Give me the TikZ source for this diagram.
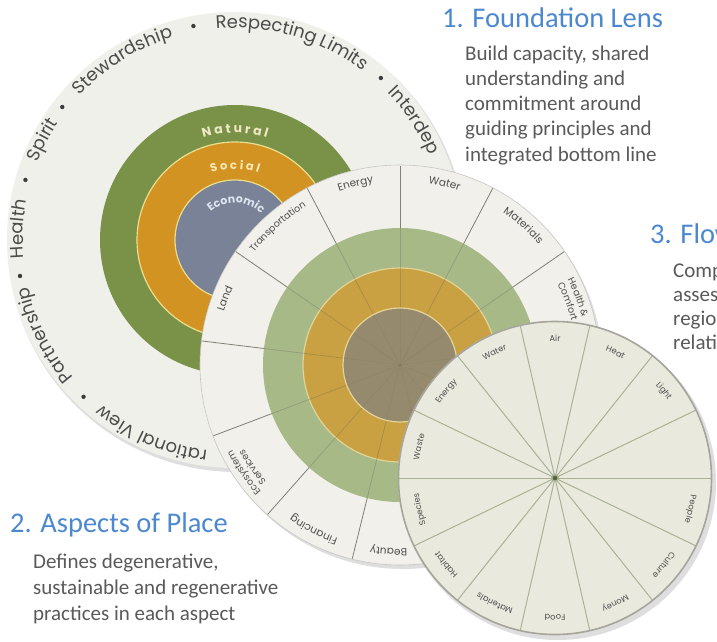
\documentclass[tikz,border=0pt]{standalone}
\usepackage{fontspec}
\setmainfont{Carlito}
\newfontfamily\geo{Poppins}
\usetikzlibrary{calc,decorations.text}
\definecolor{bandA}{RGB}{240,240,235}
\definecolor{natC}{RGB}{122,146,72}
\definecolor{socC}{RGB}{211,147,34}
\definecolor{ecoC}{RGB}{121,130,150}
\definecolor{ringA}{RGB}{232,222,140}
\definecolor{bandB}{RGB}{241,240,234}
\definecolor{greenB}{RGB}{168,185,136}
\definecolor{orangeB}{RGB}{201,161,66}
\definecolor{brownB}{RGB}{150,138,110}
\definecolor{ringB}{RGB}{226,212,150}
\definecolor{spokeB}{RGB}{128,128,118}
\definecolor{fillC}{RGB}{233,233,222}
\definecolor{borderC}{RGB}{165,165,155}
\definecolor{spokeC}{RGB}{170,178,150}
\definecolor{dotC}{RGB}{85,105,55}
\definecolor{labC}{RGB}{78,78,78}
\definecolor{wordC}{RGB}{75,75,75}
\definecolor{titleC}{RGB}{76,136,208}
\definecolor{bodyC}{RGB}{90,90,90}
\definecolor{natT}{RGB}{238,232,196}
\definecolor{socT}{RGB}{248,232,180}
\definecolor{ecoT}{RGB}{222,228,240}
% #1 centre, #2 radius, #3 mid angle, #4 half span, #5 format, #6 text, #7 colour
\newcommand\arctext[7]{%
  \path[decorate,decoration={text along path,text color=#7,text={|#5|#6},text align=center}]
    ($(#1)+({#3+#4}:#2)$) arc[start angle={#3+#4},end angle={#3-#4},radius=#2];}
\newcommand\ptext{\geo\fontsize{18}{18}\selectfont}
\newcommand\blab{\geo\fontsize{10.5}{10.5}\selectfont}
\newcommand\slab{\geo\fontsize{9.5}{9.5}\selectfont}
\newcommand\flab{\geo\fontsize{8.3}{8.3}\selectfont}
\begin{document}
\begin{tikzpicture}[x=1pt,y=1pt,
  title/.style={anchor=base west,inner sep=0pt,text=titleC,font=\fontsize{28.5}{28.5}\selectfont},
  body/.style={anchor=base west,inner sep=0pt,text=bodyC,font=\fontsize{21}{25}\selectfont},
  shadowdisk/.style={fill=black,opacity=0.13}]
\useasboundingbox (0,0) rectangle (717,-642);
\fill[white] (0,0) rectangle (717,-642);
\coordinate (c1) at (235,-240);
\coordinate (c2) at (400,-365);
\coordinate (c3) at (555,-478);
% ---------- circle 1: Foundation Lens
\fill[shadowdisk] ($(c1)+(2,-3)$) circle[radius=229];
\fill[bandA] (c1) circle[radius=228];
\fill[natC] (c1) circle[radius=135];
\draw[ringA,line width=1.2,fill=socC] (c1) circle[radius=98];
\draw[ringA,line width=1.2,fill=ecoC] (c1) circle[radius=60];
\arctext{c1}{212}{74}{40}{\ptext}{Respecting Limits}{wordC}
\arctext{c1}{212}{122}{25}{\ptext}{Stewardship}{wordC}
\arctext{c1}{212}{152.5}{15}{\ptext}{Spirit}{wordC}
\arctext{c1}{212}{177}{15}{\ptext}{Health}{wordC}
\arctext{c1}{212}{206.5}{25}{\ptext}{Partnership}{wordC}
\path[decorate,decoration={text along path,text color=wordC,text={|\ptext|Interdep},text align=left}]
  ($(c1)+(44:212)$) arc[start angle=44,end angle=-60,radius=212];
\path[decorate,decoration={text along path,text color=wordC,text={|\ptext|rational View},text align=right}]
  ($(c1)+(320:212)$) arc[start angle=320,end angle=231,radius=212];
\foreach \a in {48,101,142.4,164,189.5,226}
  \fill[wordC!80!black] ($(c1)+(\a:218)$) circle[radius=2.2];
\arctext{c1}{107}{90}{45}{\geo\bfseries\fontsize{12.5}{12.5}\selectfont}{N a t u r a l}{natT}
\arctext{c1}{71}{90}{60}{\geo\bfseries\fontsize{11.5}{11.5}\selectfont}{S o c i a l}{socT}
\arctext{c1}{37}{88}{90}{\geo\bfseries\fontsize{11}{11}\selectfont}{Economic}{ecoT}
% ---------- circle 2: Aspects of Place
\fill[shadowdisk] ($(c2)+(3,-4)$) circle[radius=200];
\draw[gray!45,line width=0.6,fill=bandB] (c2) circle[radius=200];
\foreach \k in {0,...,12}
  \draw[spokeB,line width=0.8] ($(c2)+({90+\k*360/13}:130)$) -- ($(c2)+({90+\k*360/13}:199.5)$);
\fill[greenB] (c2) circle[radius=137];
\draw[ringB,line width=1.2,fill=orangeB] (c2) circle[radius=97];
\foreach \k in {0,...,12}
  \draw[spokeB!70!black,opacity=0.28,line width=0.8] ($(c2)+({90+\k*360/13}:57)$) -- ($(c2)+({90+\k*360/13}:137)$);
\draw[ringB,line width=1.2,fill=brownB] (c2) circle[radius=57];
\foreach \k in {0,...,12}
  \draw[spokeB!70!black,opacity=0.1,line width=0.8] (c2) -- ($(c2)+({90+\k*360/13}:56)$);
\arctext{c2}{184}{103.8}{25}{\blab}{Energy}{labC}
\arctext{c2}{184}{76.2}{25}{\blab}{Water}{labC}
\arctext{c2}{184}{48.5}{25}{\blab}{Materials}{labC}
\arctext{c2}{184}{131.5}{25}{\slab}{Transportation}{labC}
\arctext{c2}{184}{159.2}{25}{\blab}{Land}{labC}
\arctext{c2}{188}{214.6}{25}{\slab}{Ecosystem}{labC}
\arctext{c2}{177}{214.6}{25}{\slab}{Services}{labC}
\arctext{c2}{184}{242.3}{25}{\blab}{Financing}{labC}
\arctext{c2}{184}{266.5}{25}{\blab}{Beauty}{labC}
\arctext{c2}{188}{20.8}{25}{\slab}{Health {\&}}{labC}
\arctext{c2}{177}{20.8}{25}{\slab}{Comfort}{labC}
% ---------- circle 3: Flows
\fill[shadowdisk] ($(c3)+(3,-4)$) circle[radius=158];
\fill[fillC] (c3) circle[radius=157];
\foreach \k in {0,...,13}
  \draw[spokeC,line width=1] (c3) -- ($(c3)+({\k*360/14}:156)$);
\draw[borderC,line width=1.6] (c3) circle[radius=156.5];
\fill[spokeC] (c3) circle[radius=4];
\fill[dotC] (c3) circle[radius=2.3];
\arctext{c3}{137}{90}{20}{\flab}{Air}{labC}
\arctext{c3}{137}{64.3}{20}{\flab}{Heat}{labC}
\arctext{c3}{137}{38.6}{20}{\flab}{Light}{labC}
\arctext{c3}{137}{-12.9}{20}{\flab}{People}{labC}
\arctext{c3}{137}{-38.6}{20}{\flab}{Culture}{labC}
\arctext{c3}{137}{-64.3}{20}{\flab}{Money}{labC}
\arctext{c3}{137}{-90}{20}{\flab}{Food}{labC}
\arctext{c3}{137}{-115.7}{20}{\flab}{Materials}{labC}
\arctext{c3}{137}{-141.4}{20}{\flab}{Habitat}{labC}
\arctext{c3}{137}{-167.1}{20}{\flab}{Species}{labC}
\arctext{c3}{137}{167.1}{20}{\flab}{Waste}{labC}
\arctext{c3}{137}{141.4}{20}{\flab}{Energy}{labC}
\arctext{c3}{137}{115.7}{20}{\flab}{Water}{labC}
% ---------- texts
\node[title] (t1) at (442,-28) {1. Foundation Lens};
\node[body] (b1a) at (465,-60) {Build capacity, shared};
\node[body] (b1b) at (465,-85) {understanding and};
\node[body] (b1c) at (465,-110) {commitment around};
\node[body] (b1d) at (465,-135) {guiding principles and};
\node[body] (b1e) at (465,-161) {integrated bottom line};
\node[title] (t2) at (10,-532) {2. Aspects of Place};
\node[body] (b2a) at (33,-568) {Defines degenerative,};
\node[body] (b2b) at (33,-594) {sustainable and regenerative};
\node[body] (b2c) at (33,-620) {practices in each aspect};
\node[title] (t3) at (650,-243) {3. Flows Lens};
\node[body] (b3a) at (673,-277) {Compares};
\node[body] (b3b) at (673,-301) {assesses};
\node[body] (b3c) at (673,-325) {regional};
\node[body] (b3d) at (673,-349) {relationships};
\end{tikzpicture}
\end{document}
